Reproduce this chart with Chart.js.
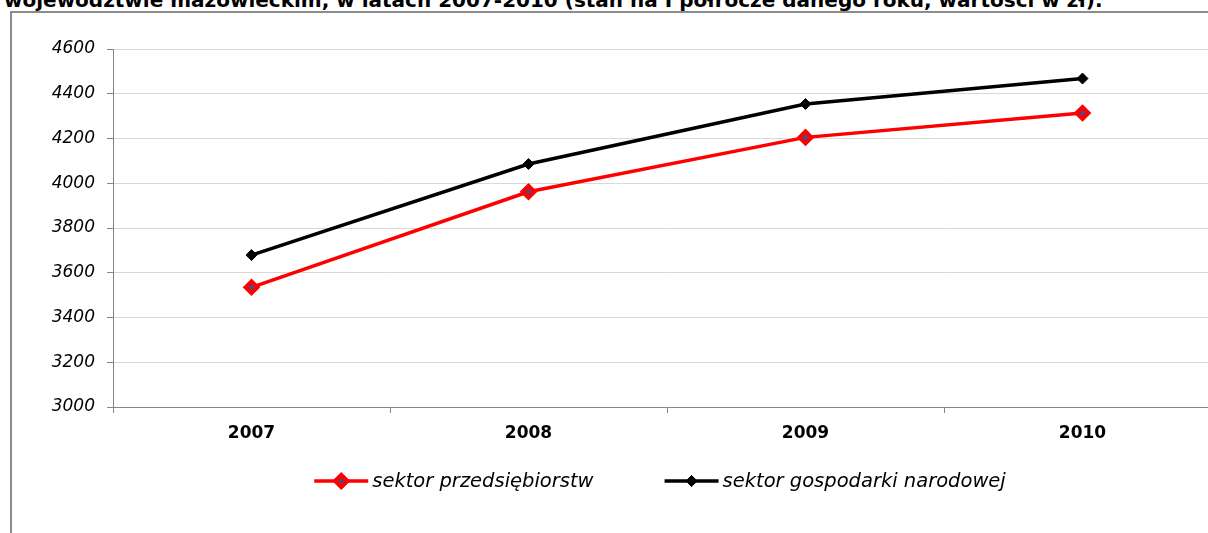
<!DOCTYPE html>
<html>
<head>
<meta charset="utf-8">
<script src="https://cdn.jsdelivr.net/npm/chart.js@4.4.0/dist/chart.umd.min.js"></script>
<style>
  html, body { margin:0; padding:0; width:1208px; height:533px; overflow:hidden; background:#fff; }
  #title { position:absolute; left:4px; top:-9px; white-space:nowrap; font-family:"DejaVu Sans"; font-weight:bold; font-size:20px; line-height:19px; color:#000; }
  #frame { position:absolute; left:10px; top:11px; width:1300px; height:600px; border:2px solid #8c8c8c; }
  #wrap { position:absolute; left:0; top:0; width:1240px; height:533px; }
</style>
</head>
<body>
<div id="title">województwie mazowieckim, w latach 2007-2010 (stan na I półrocze danego roku, wartości w zł).</div>
<div id="frame"></div>
<div id="wrap"><canvas id="c" width="1240" height="533"></canvas></div>
<script>
const years = ['2007', '2008', '2009', '2010'];
const seriesNames = ['sektor przedsiębiorstw', 'sektor gospodarki narodowej'];
const przedsiebiorstw = [3535, 3962, 4205, 4314];
const gospodarkiNarodowej = [3679, 4086, 4354, 4468];
const yTicks = [3000, 3200, 3400, 3600, 3800, 4000, 4200, 4400, 4600];

const axisGray = '#868686';

const legendPlugin = {
  id: 'lineLegend',
  afterDraw(chart) {
    const ctx = chart.ctx;
    const y = 481, lineW = 54, gapText = 4, gapItem = 71, centerX = 660;
    ctx.save();
    ctx.font = 'italic 19.5px "DejaVu Sans"';
    const items = chart.data.datasets.map(ds => ({ds, tw: ctx.measureText(ds.label).width}));
    let total = items.reduce((s, it) => s + lineW + gapText + it.tw, 0) + gapItem * (items.length - 1);
    let x = centerX - total / 2;
    items.forEach(({ds, tw}) => {
      ctx.strokeStyle = ds.borderColor;
      ctx.lineWidth = ds.borderWidth;
      ctx.beginPath(); ctx.moveTo(x, y); ctx.lineTo(x + lineW, y); ctx.stroke();
      ctx.lineWidth = ds.pointBorderWidth;
      Chart.helpers.drawPoint(ctx, {
        pointStyle: 'rectRot', radius: ds.pointRadius, borderWidth: ds.pointBorderWidth
      }, x + lineW / 2, y);
      ctx.fillStyle = ds.pointBackgroundColor;
      ctx.strokeStyle = ds.pointBorderColor;
      ctx.fill(); ctx.stroke();
      ctx.fillStyle = '#000';
      ctx.textAlign = 'left';
      ctx.textBaseline = 'middle';
      ctx.fillText(ds.label, x + lineW + gapText, y + 1);
      x += lineW + gapText + tw + gapItem;
    });
    ctx.restore();
  }
};

new Chart(document.getElementById('c'), {
  type: 'line',
  data: {
    labels: years,
    datasets: [
      {
        label: seriesNames[0], data: przedsiebiorstw,
        borderColor: '#ff0000', borderWidth: 3.5, tension: 0,
        pointStyle: 'rectRot', pointRadius: 6, pointBorderWidth: 4,
        pointBackgroundColor: '#4d4a86', pointBorderColor: '#ff0000'
      },
      {
        label: seriesNames[1], data: gospodarkiNarodowej,
        borderColor: '#000000', borderWidth: 3.5, tension: 0,
        pointStyle: 'rectRot', pointRadius: 5.5, pointBorderWidth: 1,
        pointBackgroundColor: '#000000', pointBorderColor: '#000000'
      }
    ]
  },
  options: {
    responsive: false,
    animation: false,
    layout: { padding: { top: 49, left: 0, right: 19, bottom: 0 } },
    plugins: { legend: { display: false }, tooltip: { enabled: false } },
    scales: {
      x: {
        type: 'category',
        offset: true,
        afterFit: s => { s.height = 126; },
        grid: { offset: true, drawOnChartArea: false, drawTicks: true, tickLength: 6, tickColor: axisGray },
        border: { color: axisGray, width: 1 },
        ticks: { color: '#000', padding: 10, font: { family: 'DejaVu Sans', weight: 'bold', size: 17 } }
      },
      y: {
        min: yTicks[0], max: yTicks[yTicks.length - 1],
        afterFit: s => { s.width = 113; },
        afterBuildTicks: s => { s.ticks = yTicks.map(v => ({value: v})); },
        grid: { color: '#d9d9d9', lineWidth: 1, drawTicks: true, tickLength: 6, tickColor: axisGray },
        border: { color: axisGray, width: 1 },
        ticks: {
          color: '#000', padding: 12,
          font: { family: 'DejaVu Sans', style: 'italic', size: 17 },
          callback: v => String(v)
        }
      }
    }
  },
  plugins: [legendPlugin]
});
</script>
</body>
</html>
